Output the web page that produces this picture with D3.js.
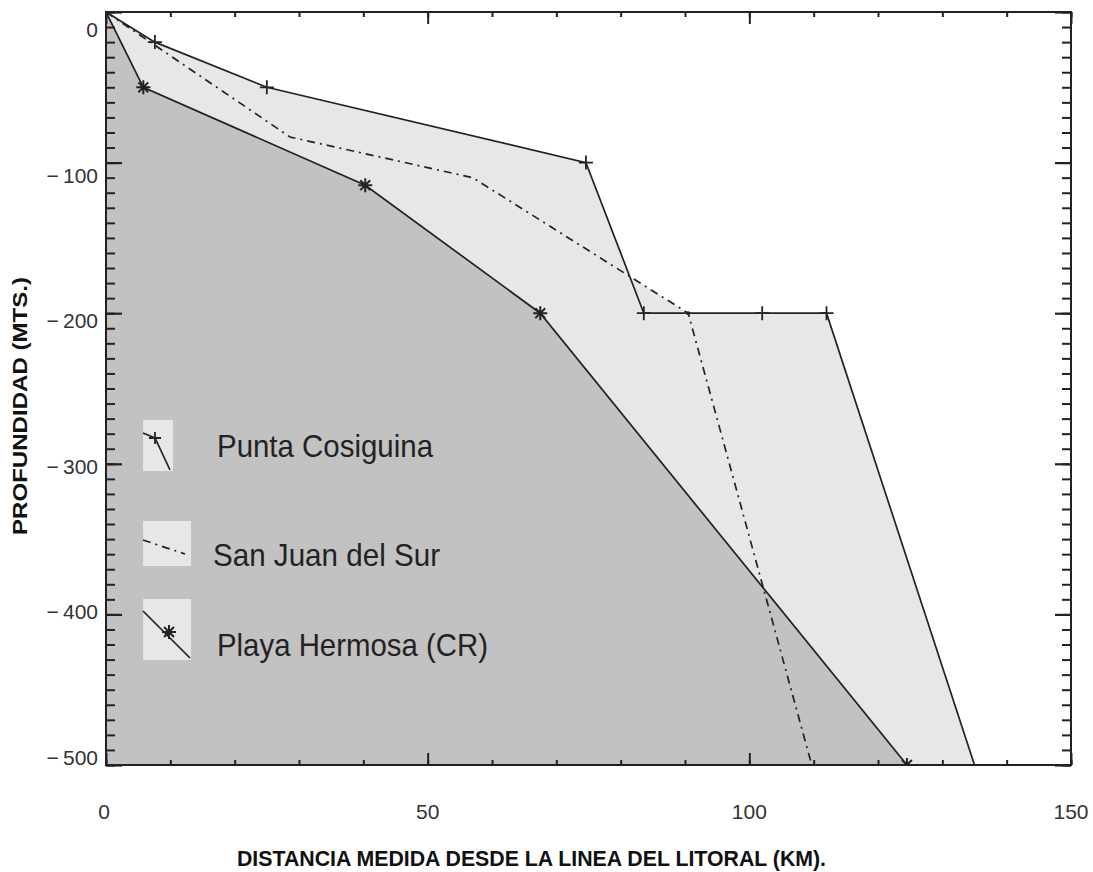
<!DOCTYPE html>
<html>
<head>
<meta charset="utf-8">
<script src="https://cdn.jsdelivr.net/npm/d3@7"></script>
<style>
  body { margin: 0; background: #fff; }
  svg { display: block; }
  text { font-family: "Liberation Sans", Arial, sans-serif; fill: #222; }
</style>
</head>
<body>
<svg id="chart" width="1093" height="872"></svg>
<script>
// perfiles de profundidad (km, m)
const puntaX = [0, 7.6, 25, 74.6, 83.6, 102, 112, 135];
const puntaY = [0, -20, -50, -100, -200, -200, -200, -500];
const sanJuanX = [0, 28.6, 57, 90.5, 109.7];
const sanJuanY = [0, -83, -110, -200, -500];
const playaX = [0, 5.8, 40.3, 67.5, 124.5];
const playaY = [0, -50, -115, -200, -500];

const xTicks = [0, 50, 100, 150];
const yTicks = [0, -100, -200, -300, -400, -500];
const seriesNames = ['Punta Cosiguina', 'San Juan del Sur', 'Playa Hermosa (CR)'];

const svg = d3.select('#chart');
const pLeft = 106, pRight = 1071, pTop = 12, pBottom = 765;

const x = d3.scaleLinear().domain([0, 150]).range([pLeft, pRight]);
const y = d3.scaleLinear().domain([0, -500]).range([pTop, pBottom]);
// las etiquetas del eje y no caen exactamente sobre las marcas
const yLab = d3.scaleLinear().domain([0, -500]).range([30, 758]);

const light = '#e7e7e7', dark = '#c2c2c2', ink = '#222';

const zip = (xs, ys) => xs.map((v, i) => [v, ys[i]]);
const punta = zip(puntaX, puntaY);
const sanJuan = zip(sanJuanX, sanJuanY);
const playa = zip(playaX, playaY);

svg.append('defs').append('clipPath').attr('id', 'plot')
  .append('rect').attr('x', pLeft).attr('y', pTop)
  .attr('width', pRight - pLeft).attr('height', pBottom - pTop);

const g = svg.append('g').attr('clip-path', 'url(#plot)');

const area = d3.area().x(d => x(d[0])).y0(y(-500)).y1(d => y(d[1]));
const line = d3.line().x(d => x(d[0])).y(d => y(d[1]));

/*rellenos*/
g.append('path').datum(punta).attr('d', area).attr('fill', light);
g.append('path').datum(sanJuan).attr('d', area).attr('fill', light);
g.append('path').datum(playa).attr('d', area).attr('fill', dark);

/*lineas*/
g.append('path').datum(punta).attr('d', line)
  .attr('fill', 'none').attr('stroke', ink).attr('stroke-width', 1.7);
g.append('path').datum(sanJuan).attr('d', line)
  .attr('fill', 'none').attr('stroke', ink).attr('stroke-width', 1.7)
  .attr('stroke-dasharray', '8,5,2,5');
g.append('path').datum(playa).attr('d', line)
  .attr('fill', 'none').attr('stroke', ink).attr('stroke-width', 1.7);

function plus(sel, s) {
  sel.append('path').attr('d', `M${-s},0H${s}M0,${-s}V${s}`)
    .attr('stroke', ink).attr('stroke-width', 1.8).attr('fill', 'none');
}
function star(sel, s) {
  let d = '';
  for (let k = 0; k < 4; k++) {
    const a = k * Math.PI / 4;
    d += `M${-s * Math.cos(a)},${-s * Math.sin(a)}L${s * Math.cos(a)},${s * Math.sin(a)}`;
  }
  sel.append('path').attr('d', d)
    .attr('stroke', ink).attr('stroke-width', 2).attr('fill', 'none');
}

g.selectAll('.pm').data(punta.filter(d => d[0] > 0 && d[1] > -500)).enter()
  .append('g').attr('transform', d => `translate(${x(d[0])},${y(d[1])})`)
  .each(function () { plus(d3.select(this), 7); });

g.selectAll('.hm').data(playa.filter(d => d[0] > 0)).enter()
  .append('g').attr('transform', d => `translate(${x(d[0])},${y(d[1])})`)
  .each(function () { star(d3.select(this), 7); });

g.selectAll('.sm').data(sanJuan.filter(d => d[1] === -200)).enter()
  .append('circle').attr('cx', d => x(d[0])).attr('cy', d => y(d[1]))
  .attr('r', 2).attr('fill', ink);

/*ejes: marcas hacia dentro en los cuatro lados*/
const axes = svg.append('g');
function drawAxis(axis, tx, ty, w) {
  const a = axes.append('g').attr('transform', `translate(${tx},${ty})`).call(axis);
  a.select('.domain').remove();
  a.selectAll('line').attr('stroke', ink).attr('stroke-width', w);
}
const xMinor = d3.range(0, 151, 10);
const yMinor = d3.range(0, -501, -10);
drawAxis(d3.axisBottom(x).tickValues(xMinor).tickSize(-5).tickFormat(''), 0, pBottom, 2);
drawAxis(d3.axisBottom(x).tickValues(xTicks).tickSize(-12).tickFormat(''), 0, pBottom, 2);
drawAxis(d3.axisTop(x).tickValues(xMinor).tickSize(-5).tickFormat(''), 0, pTop, 2);
drawAxis(d3.axisTop(x).tickValues(xTicks).tickSize(-12).tickFormat(''), 0, pTop, 2);
drawAxis(d3.axisLeft(y).tickValues(yMinor).tickSize(-9).tickFormat(''), pLeft, 0, 2);
drawAxis(d3.axisLeft(y).tickValues(yTicks).tickSize(-16).tickFormat(''), pLeft, 0, 2.2);
drawAxis(d3.axisRight(y).tickValues(yMinor).tickSize(-9).tickFormat(''), pRight, 0, 2);
drawAxis(d3.axisRight(y).tickValues(yTicks).tickSize(-16).tickFormat(''), pRight, 0, 2.2);

svg.append('rect').attr('x', pLeft).attr('y', pTop)
  .attr('width', pRight - pLeft).attr('height', pBottom - pTop)
  .attr('fill', 'none').attr('stroke', ink).attr('stroke-width', 2);

/*etiquetas*/
svg.selectAll('.xl').data(xTicks).enter().append('text')
  .attr('x', d => x(d) - (d === 0 ? 2 : 0)).attr('y', 819)
  .attr('text-anchor', 'middle').style('font-size', '21px').style('fill', '#333')
  .text(d => d);

svg.selectAll('.yl').data(yTicks).enter().append('text')
  .attr('x', 98).attr('y', d => yLab(d) + 7)
  .attr('text-anchor', 'end').style('font-size', '21px').style('fill', '#333')
  .text(d => d === 0 ? '0' : '\u2212\u2009' + Math.abs(d));

svg.append('text')
  .attr('x', 237).attr('y', 866)
  .attr('textLength', 589).attr('lengthAdjust', 'spacingAndGlyphs')
  .style('font-family', '"Liberation Sans Narrow", "Liberation Sans", Arial, sans-serif')
  .style('font-weight', 'bold').style('font-size', '22px').style('fill', '#111')
  .text('DISTANCIA MEDIDA DESDE LA LINEA DEL LITORAL (KM).');

svg.append('text')
  .attr('transform', 'translate(27,535) rotate(-90)')
  .attr('textLength', 258).attr('lengthAdjust', 'spacingAndGlyphs')
  .style('font-family', '"Liberation Sans Narrow", "Liberation Sans", Arial, sans-serif')
  .style('font-weight', 'bold').style('font-size', '20px').style('fill', '#111')
  .text('PROFUNDIDAD (MTS.)');

/*leyenda*/
const leg = svg.append('g');
leg.append('rect').attr('x', 143).attr('y', 420).attr('width', 30).attr('height', 51).attr('fill', light);
leg.append('rect').attr('x', 143).attr('y', 521).attr('width', 48).attr('height', 45).attr('fill', light);
leg.append('rect').attr('x', 143).attr('y', 599).attr('width', 48).attr('height', 61).attr('fill', light);

leg.append('path').attr('d', 'M143,433L155,438L170,470')
  .attr('fill', 'none').attr('stroke', ink).attr('stroke-width', 1.7);
plus(leg.append('g').attr('transform', 'translate(155,438)'), 6);

leg.append('path').attr('d', 'M143,540L185,554')
  .attr('fill', 'none').attr('stroke', ink).attr('stroke-width', 1.7)
  .attr('stroke-dasharray', '8,5,2,5');

leg.append('path').attr('d', 'M143,611L190,658')
  .attr('fill', 'none').attr('stroke', ink).attr('stroke-width', 1.7);
star(leg.append('g').attr('transform', 'translate(169,632)'), 7);

const legText = [[217, 457, 216], [213, 566, 227], [217, 656, 271]];
leg.selectAll('.lt').data(seriesNames).enter().append('text')
  .attr('x', (d, i) => legText[i][0]).attr('y', (d, i) => legText[i][1])
  .attr('textLength', (d, i) => legText[i][2]).attr('lengthAdjust', 'spacingAndGlyphs')
  .style('font-size', '32px').style('fill', '#222')
  .text(d => d);
</script>
</body>
</html>
